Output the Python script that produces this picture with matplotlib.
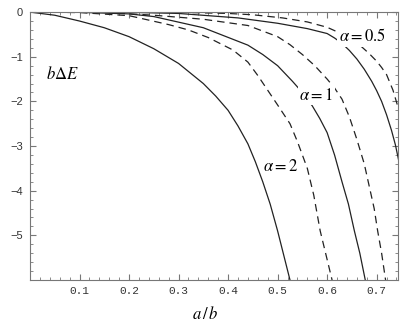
import numpy as np
import matplotlib.pyplot as plt
from matplotlib.ticker import MultipleLocator

plt.rcParams['mathtext.fontset'] = 'stix'

# curves (a/b, b*dE)
x_s2 = [0, 0.05, 0.1, 0.15, 0.2, 0.25, 0.3, 0.35, 0.375, 0.4, 0.42, 0.44, 0.455, 0.47, 0.485, 0.5, 0.525]
y_s2 = [0, -0.07, -0.2, -0.35, -0.55, -0.82, -1.15, -1.6, -1.88, -2.2, -2.55, -2.95, -3.35, -3.8, -4.3, -4.9, -6.0]
x_d2 = [0, 0.1, 0.2, 0.28, 0.32, 0.36, 0.41, 0.44, 0.46, 0.48, 0.5, 0.525, 0.54, 0.56, 0.573, 0.586, 0.598, 0.61]
y_d2 = [0, -0.01, -0.08, -0.28, -0.4, -0.57, -0.85, -1.12, -1.42, -1.75, -2.08, -2.5, -2.9, -3.5, -4.1, -4.9, -5.45, -6.0]
x_s1 = [0, 0.1, 0.2, 0.25, 0.35, 0.44, 0.47, 0.5, 0.53, 0.55, 0.57, 0.585, 0.6, 0.615, 0.63, 0.643, 0.655, 0.666, 0.677]
y_s1 = [0, -0.005, -0.04, -0.1, -0.35, -0.74, -0.95, -1.2, -1.55, -1.8, -2.1, -2.38, -2.7, -3.2, -3.8, -4.3, -4.9, -5.4, -6.0]
x_d1 = [0, 0.15, 0.25, 0.35, 0.44, 0.5, 0.525, 0.55, 0.575, 0.6, 0.615, 0.63, 0.645, 0.66, 0.675, 0.687, 0.695, 0.702, 0.71, 0.718]
y_d1 = [0, -0.005, -0.07, -0.16, -0.3, -0.55, -0.73, -0.95, -1.2, -1.5, -1.7, -1.95, -2.35, -2.85, -3.4, -4.0, -4.4, -4.9, -5.4, -6.0]
x_s05 = [0, 0.2, 0.3, 0.42, 0.5, 0.56, 0.6, 0.615, 0.63, 0.645, 0.66, 0.675, 0.69, 0.7, 0.71, 0.72, 0.73, 0.738, 0.745]
y_s05 = [0, -0.005, -0.03, -0.13, -0.25, -0.37, -0.48, -0.58, -0.7, -0.86, -1.05, -1.28, -1.55, -1.76, -2.0, -2.3, -2.65, -2.98, -3.35]
x_d05 = [0, 0.3, 0.4, 0.45, 0.51, 0.56, 0.6, 0.62, 0.64, 0.655, 0.67, 0.685, 0.7, 0.71, 0.72, 0.733, 0.745]
y_d05 = [0, -0.005, -0.03, -0.06, -0.13, -0.22, -0.34, -0.44, -0.55, -0.66, -0.78, -0.93, -1.1, -1.24, -1.4, -1.75, -2.2]

fig = plt.figure(figsize=(4.09, 3.27), dpi=100)
ax = fig.add_axes([0.0733, 0.1437, 0.8997, 0.8193])

col = '#222222'
ax.plot(x_s2, y_s2, color=col, lw=0.9)
ax.plot(x_s1, y_s1, color=col, lw=0.9)
ax.plot(x_s05, y_s05, color=col, lw=0.9)
for xs, ys in [(x_d2, y_d2), (x_d1, y_d1), (x_d05, y_d05)]:
    ax.plot(xs, ys, color=col, lw=0.9, dashes=(6, 4))

ax.set_xlim(0, 0.743)
ax.set_ylim(-6, 0)

frame = '#777777'
for sp in ax.spines.values():
    sp.set_color(frame)
ax.xaxis.set_major_locator(MultipleLocator(0.1))
ax.xaxis.set_minor_locator(MultipleLocator(0.02))
ax.yaxis.set_major_locator(MultipleLocator(1))
ax.yaxis.set_minor_locator(MultipleLocator(0.2))
ax.tick_params(which='both', direction='in', top=True, right=True, color=frame)
ax.tick_params(which='major', length=4, labelsize=8, labelcolor='#333333')
ax.tick_params(which='minor', length=2)
ax.set_xticks([0.1, 0.2, 0.3, 0.4, 0.5, 0.6, 0.7])
ax.set_xticklabels(['0.1', '0.2', '0.3', '0.4', '0.5', '0.6', '0.7'], family='Liberation Mono')
ax.set_yticks([0, -1, -2, -3, -4, -5])
ax.set_yticklabels(['0', '\u22121', '\u22122', '\u22123', '\u22124', '\u22125'], family='Liberation Sans')
ax.tick_params(axis='x', pad=4)
ax.tick_params(axis='y', pad=5)

box = dict(fc='white', ec='none', pad=1)
ax.text(0.671, -0.54, r'$\alpha = 0.5$', fontsize=12, ha='center', va='center', bbox=box)
ax.text(0.578, -1.86, r'$\alpha = 1$', fontsize=12, ha='center', va='center', bbox=box)
ax.text(0.507, -3.45, r'$\alpha = 2$', fontsize=12, ha='center', va='center', bbox=box)
ax.text(0.065, -1.39, r'$b\Delta E$', fontsize=12, ha='center', va='center')
fig.text(205 / 409, 1 - 314 / 327, r'$a\,/\,b$', fontsize=12, ha='center', va='center')

fig.savefig('out.png', dpi=100)
